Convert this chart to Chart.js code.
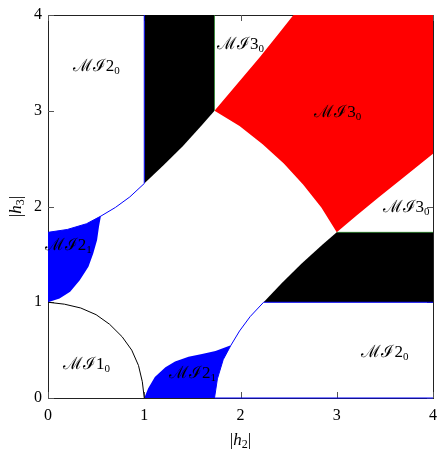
<!DOCTYPE html>
<html>
<head>
<meta charset="utf-8">
<script src="https://cdn.jsdelivr.net/npm/chart.js@4/dist/chart.umd.min.js"></script>
<style>
  html, body { margin: 0; padding: 0; background: #fff; }
</style>
</head>
<body>
<canvas id="canvas" width="440" height="449"></canvas>
<script>
// boundaries, in (|h2|, |h3|) units
var arcX = [0, 0.17, 0.34, 0.5, 0.64, 0.77, 0.87, 0.94, 0.98, 1];
var arcY = [1, 0.98, 0.94, 0.87, 0.77, 0.64, 0.5, 0.34, 0.17, 0];

var hypLeftX = [0, 0.2, 0.4, 0.55, 0.7, 0.85, 1.0];
var hypLeftY = [1.73, 1.76, 1.82, 1.9, 1.99, 2.1, 2.24];
var hypBottomX = [1.73, 1.76, 1.82, 1.9, 1.99, 2.1, 2.24];
var hypBottomY = [0, 0.2, 0.4, 0.55, 0.7, 0.85, 1.0];

var blackTopUpX = [1, 1.73];
var blackTopUpY = [4, 4];
var blackTopLoX = [1, 1.2, 1.4, 1.6, 1.73];
var blackTopLoY = [2.24, 2.43, 2.63, 2.85, 3];

var blackRightUpX = [2.24, 2.43, 2.63, 2.85, 3, 4];
var blackRightUpY = [1, 1.2, 1.4, 1.6, 1.73, 1.73];
var blackRightLoX = [2.24, 4];
var blackRightLoY = [1, 1];

var redUpX = [1.73, 2.0, 2.2, 2.4, 2.55, 4];
var redUpY = [3, 3.32, 3.56, 3.81, 4, 4];
var redLoX = [1.73, 1.99, 2.23, 2.45, 2.65, 2.84, 3, 3.2, 3.44, 3.69, 4];
var redLoY = [3, 2.84, 2.65, 2.45, 2.23, 1.99, 1.73, 1.9, 2.1, 2.3, 2.55];

var blueLeftUpX = [0, 0.2, 0.4, 0.55];
var blueLeftUpY = [1.73, 1.76, 1.82, 1.9];
var blueLeftLoX = [0, 0.12, 0.23, 0.33, 0.42, 0.47, 0.51, 0.53, 0.55];
var blueLeftLoY = [1, 1.04, 1.11, 1.23, 1.37, 1.51, 1.65, 1.79, 1.9];

var blueBottomUpX = [1, 1.04, 1.11, 1.22, 1.32, 1.46, 1.6, 1.74, 1.9];
var blueBottomUpY = [0, 0.1, 0.22, 0.32, 0.38, 0.43, 0.46, 0.49, 0.55];
var blueBottomLoX = [1, 1.73, 1.76, 1.82, 1.9];
var blueBottomLoY = [0, 0, 0.2, 0.4, 0.55];

var labelMain = ['ℳℐ2', 'ℳℐ3', 'ℳℐ3', 'ℳℐ3', 'ℳℐ2', 'ℳℐ1', 'ℳℐ2', 'ℳℐ2'];
var labelSub = ['0', '0', '0', '0', '1', '0', '1', '0'];
var labelX = [0.5, 2.0, 3.01, 3.72, 0.21, 0.4, 1.5, 3.5];
var labelY = [3.47, 3.70, 2.99, 1.99, 1.6, 0.36, 0.26, 0.48];

var tickValues = [0, 1, 2, 3, 4];

var serif = '"Liberation Serif", "DejaVu Serif", serif';

function pts(xs, ys) {
	return xs.map(function(x, i) { return {x: x, y: ys[i]}; });
}

var datasets = [];

function addEdge(xs, ys, color, w) {
	datasets.push({data: pts(xs, ys), borderColor: color, borderWidth: w, pointRadius: 0,
		fill: false, tension: 0, order: 0, clip: false});
}

function addArea(upX, upY, loX, loY, color) {
	var i = datasets.length;
	datasets.push({data: pts(upX, upY), borderColor: color, borderWidth: 0, backgroundColor: color,
		pointRadius: 0, fill: {target: i + 1}, tension: 0, order: 1});
	datasets.push({data: pts(loX, loY), borderColor: 'rgba(0,0,0,0)', borderWidth: 0,
		pointRadius: 0, fill: false, tension: 0, order: 2});
}

addArea(blackTopUpX, blackTopUpY, blackTopLoX, blackTopLoY, '#000000');
addArea(blackRightUpX, blackRightUpY, blackRightLoX, blackRightLoY, '#000000');
addArea(redUpX, redUpY, redLoX, redLoY, '#ff0000');
addArea(blueLeftUpX, blueLeftUpY, blueLeftLoX, blueLeftLoY, '#0000ff');
addArea(blueBottomUpX, blueBottomUpY, blueBottomLoX, blueBottomLoY, '#0000ff');

addEdge(arcX, arcY, '#000000', 1);
addEdge(hypLeftX, hypLeftY, '#0000ff', 1);
addEdge(hypBottomX, hypBottomY, '#0000ff', 1);
addEdge([1, 1], [2.24, 4], '#0000ff', 1);
addEdge([2.24, 4], [1, 1], '#0000ff', 1);
addEdge([1.73, 1.73], [3, 4], '#1f7a1f', 0.8);
addEdge([3, 4], [1.73, 1.73], '#1f7a1f', 0.8);
addEdge([1.73, 4], [0, 0], '#0000ff', 1.2);

function drawRuns(ctx, runs, x, y) {
	runs.forEach(function(r) {
		ctx.font = r.font;
		ctx.fillText(r.t, x, y + (r.dy || 0));
		x += ctx.measureText(r.t).width;
	});
}

function runsWidth(ctx, runs) {
	var w = 0;
	runs.forEach(function(r) { ctx.font = r.font; w += ctx.measureText(r.t).width; });
	return w;
}

var framePlugin = {
	id: 'frame',
	beforeDatasetsDraw: function(chart) {
		var ctx = chart.ctx, a = chart.chartArea;
		var xs = chart.scales.x, ys = chart.scales.y;
		ctx.save();
		ctx.strokeStyle = '#222';
		ctx.lineWidth = 1;
		ctx.strokeRect(Math.round(a.left) + 0.5, Math.round(a.top) + 0.5,
			Math.round(a.right - a.left), Math.round(a.bottom - a.top));
		ctx.strokeStyle = '#555';
		ctx.beginPath();
		tickValues.forEach(function(v) {
			var px = Math.round(xs.getPixelForValue(v)) + 0.5;
			var py = Math.round(ys.getPixelForValue(v)) + 0.5;
			ctx.moveTo(px, a.bottom); ctx.lineTo(px, a.bottom - 6);
			ctx.moveTo(px, a.top); ctx.lineTo(px, a.top + 6);
			ctx.moveTo(a.left, py); ctx.lineTo(a.left + 6, py);
			ctx.moveTo(a.right, py); ctx.lineTo(a.right - 6, py);
		});
		ctx.stroke();
		ctx.restore();
	},
	afterDatasetsDraw: function(chart) {
		var ctx = chart.ctx, a = chart.chartArea;
		var xs = chart.scales.x, ys = chart.scales.y;
		ctx.save();
		ctx.fillStyle = '#000';
		ctx.textBaseline = 'alphabetic';
		labelMain.forEach(function(t, i) {
			var runs = [
				{t: t, font: '17px ' + serif},
				{t: labelSub[i], font: '11px ' + serif, dy: 3}
			];
			var w = runsWidth(ctx, runs);
			drawRuns(ctx, runs, xs.getPixelForValue(labelX[i]) - w / 2, ys.getPixelForValue(labelY[i]) + 5);
		});

		// axis titles
		var tx = [
			{t: '|', font: '17px ' + serif},
			{t: 'h', font: 'italic 17px ' + serif},
			{t: '2', font: '12px ' + serif, dy: 3},
			{t: '|', font: '17px ' + serif}
		];
		var w = runsWidth(ctx, tx);
		drawRuns(ctx, tx, (a.left + a.right) / 2 - w / 2, 445);

		var ty = [
			{t: '|', font: '17px ' + serif},
			{t: 'h', font: 'italic 17px ' + serif},
			{t: '3', font: '12px ' + serif, dy: 3},
			{t: '|', font: '17px ' + serif}
		];
		w = runsWidth(ctx, ty);
		ctx.translate(21, (a.top + a.bottom) / 2);
		ctx.rotate(-Math.PI / 2);
		drawRuns(ctx, ty, -w / 2, 0);
		ctx.restore();
	}
};

var ctx = document.getElementById('canvas').getContext('2d');
var chart = new Chart(ctx, {
	type: 'line',
	data: {datasets: datasets},
	options: {
		responsive: false,
		animation: false,
		layout: {padding: {top: 15, right: 7, left: 0, bottom: 0}},
		plugins: {legend: {display: false}, tooltip: {enabled: false}},
		elements: {line: {borderCapStyle: 'butt'}},
		scales: {
			x: {
				type: 'linear', min: 0, max: 4,
				grid: {display: false, drawTicks: false},
				border: {display: false},
				ticks: {stepSize: 1, padding: 8, color: '#000', font: {family: serif, size: 16}},
				afterFit: function(s) { s.height = 51; s.paddingLeft = 0; s.paddingRight = 0; }
			},
			y: {
				type: 'linear', min: 0, max: 4,
				grid: {display: false, drawTicks: false},
				border: {display: false},
				ticks: {stepSize: 1, padding: 6, color: '#000', font: {family: serif, size: 16}},
				afterFit: function(s) { s.width = 48; s.paddingTop = 0; s.paddingBottom = 0; }
			}
		}
	},
	plugins: [framePlugin]
});
</script>
</body>
</html>
